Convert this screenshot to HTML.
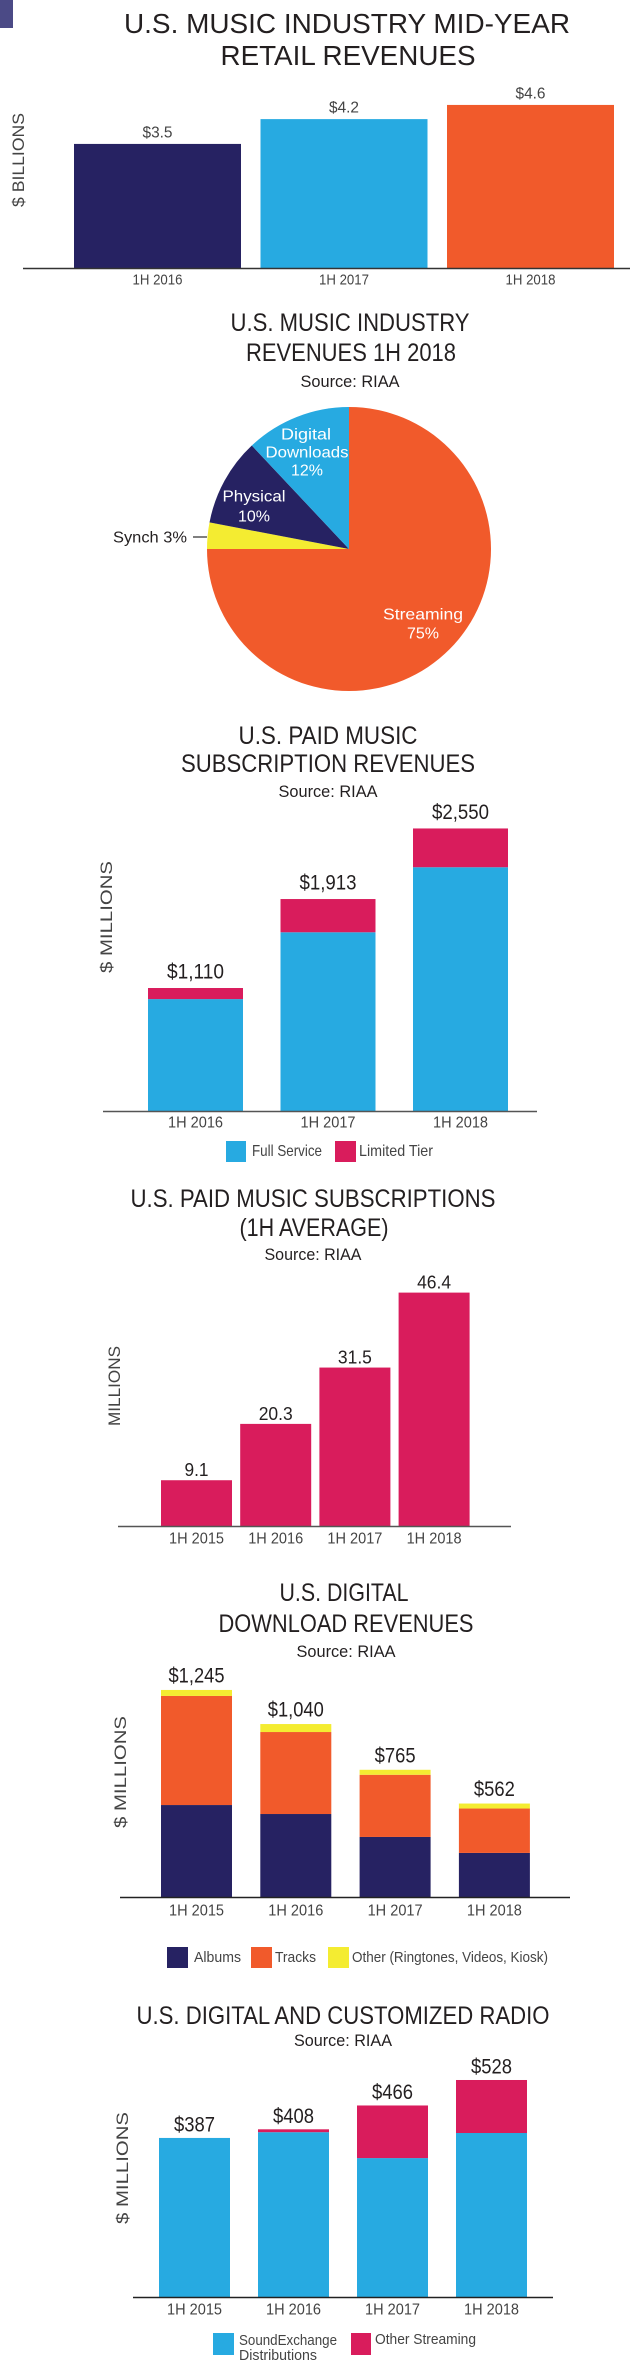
<!DOCTYPE html>
<html><head><meta charset="utf-8">
<style>
html,body{margin:0;padding:0;background:#fff;}
svg{display:block;font-family:"Liberation Sans Narrow","Liberation Sans",sans-serif;fill:#231f20;}
</style></head>
<body>
<svg id="root" width="630" height="2370" viewBox="0 0 630 2370" xmlns="http://www.w3.org/2000/svg">
<rect x="0" y="0" width="13" height="28" fill="#4b4a86"/>

<!-- Chart 1 -->
<g>
<text x="347" y="33" text-anchor="middle" font-size="28" textLength="446" lengthAdjust="spacingAndGlyphs">U.S. MUSIC INDUSTRY MID-YEAR</text>
<text x="348" y="65" text-anchor="middle" font-size="28" textLength="255" lengthAdjust="spacingAndGlyphs">RETAIL REVENUES</text>
<text transform="translate(24,160) rotate(-90)" text-anchor="middle" font-size="17" fill="#444" textLength="94" lengthAdjust="spacingAndGlyphs">$ BILLIONS</text>
<g id="c1"></g>
<line x1="23" y1="268.5" x2="630" y2="268.5" stroke="#333" stroke-width="1.5"/>
</g>

<!-- Chart 2 pie -->
<g>
<text x="350" y="331" text-anchor="middle" font-size="25" textLength="239" lengthAdjust="spacingAndGlyphs">U.S. MUSIC INDUSTRY</text>
<text x="351" y="361" text-anchor="middle" font-size="25" textLength="210" lengthAdjust="spacingAndGlyphs">REVENUES 1H 2018</text>
<text x="350" y="387" text-anchor="middle" font-size="17" textLength="99" lengthAdjust="spacingAndGlyphs">Source: RIAA</text>
<g id="c2"></g>
<line x1="193" y1="537" x2="207" y2="537" stroke="#555" stroke-width="1.5"/>
</g>

<!-- Chart 3 -->
<g>
<text x="328" y="744" text-anchor="middle" font-size="25" textLength="179" lengthAdjust="spacingAndGlyphs">U.S. PAID MUSIC</text>
<text x="328" y="772" text-anchor="middle" font-size="25" textLength="294" lengthAdjust="spacingAndGlyphs">SUBSCRIPTION REVENUES</text>
<text x="328" y="797" text-anchor="middle" font-size="17" textLength="99" lengthAdjust="spacingAndGlyphs">Source: RIAA</text>
<text transform="translate(112,917) rotate(-90)" text-anchor="middle" font-size="17" fill="#444" textLength="112" lengthAdjust="spacingAndGlyphs">$ MILLIONS</text>
<g id="c3"></g>
<line x1="103" y1="1111.5" x2="537" y2="1111.5" stroke="#555" stroke-width="1.5"/>
<rect x="226" y="1141" width="20" height="21" fill="#27aae1"/>
<text x="252" y="1156" font-size="16" fill="#444" textLength="70" lengthAdjust="spacingAndGlyphs">Full Service</text>
<rect x="335" y="1141" width="21" height="21" fill="#d91c5c"/>
<text x="359" y="1156" font-size="16" fill="#444" textLength="74" lengthAdjust="spacingAndGlyphs">Limited Tier</text>
</g>

<!-- Chart 4 -->
<g>
<text x="313" y="1207" text-anchor="middle" font-size="25" textLength="365" lengthAdjust="spacingAndGlyphs">U.S. PAID MUSIC SUBSCRIPTIONS</text>
<text x="314" y="1236" text-anchor="middle" font-size="25" textLength="149" lengthAdjust="spacingAndGlyphs">(1H AVERAGE)</text>
<text x="313" y="1260" text-anchor="middle" font-size="17" textLength="97" lengthAdjust="spacingAndGlyphs">Source: RIAA</text>
<text transform="translate(120,1386) rotate(-90)" text-anchor="middle" font-size="17" fill="#444" textLength="80" lengthAdjust="spacingAndGlyphs">MILLIONS</text>
<g id="c4"></g>
<line x1="118" y1="1526.5" x2="511" y2="1526.5" stroke="#555" stroke-width="1.5"/>
</g>

<!-- Chart 5 -->
<g>
<text x="344" y="1601" text-anchor="middle" font-size="25" textLength="129" lengthAdjust="spacingAndGlyphs">U.S. DIGITAL</text>
<text x="346" y="1632" text-anchor="middle" font-size="25" textLength="255" lengthAdjust="spacingAndGlyphs">DOWNLOAD REVENUES</text>
<text x="346" y="1657" text-anchor="middle" font-size="17" textLength="99" lengthAdjust="spacingAndGlyphs">Source: RIAA</text>
<text transform="translate(126,1772) rotate(-90)" text-anchor="middle" font-size="17" fill="#444" textLength="112" lengthAdjust="spacingAndGlyphs">$ MILLIONS</text>
<g id="c5"></g>
<line x1="120" y1="1897.5" x2="570" y2="1897.5" stroke="#222" stroke-width="1.5"/>
<rect x="167" y="1947" width="21" height="21" fill="#262262"/>
<text x="194" y="1962" font-size="15" fill="#444" textLength="47" lengthAdjust="spacingAndGlyphs">Albums</text>
<rect x="251" y="1947" width="21" height="21" fill="#f15a2b"/>
<text x="275" y="1962" font-size="15" fill="#444" textLength="41" lengthAdjust="spacingAndGlyphs">Tracks</text>
<rect x="328" y="1947" width="21" height="21" fill="#f4ec31"/>
<text x="352" y="1962" font-size="15" fill="#444" textLength="196" lengthAdjust="spacingAndGlyphs">Other (Ringtones, Videos, Kiosk)</text>
</g>

<!-- Chart 6 -->
<g>
<text x="343" y="2024" text-anchor="middle" font-size="25" textLength="413" lengthAdjust="spacingAndGlyphs">U.S. DIGITAL AND CUSTOMIZED RADIO</text>
<text x="343" y="2046" text-anchor="middle" font-size="17" textLength="98" lengthAdjust="spacingAndGlyphs">Source: RIAA</text>
<text transform="translate(128,2168) rotate(-90)" text-anchor="middle" font-size="17" fill="#444" textLength="112" lengthAdjust="spacingAndGlyphs">$ MILLIONS</text>
<g id="c6"></g>
<line x1="133" y1="2297.5" x2="553" y2="2297.5" stroke="#222" stroke-width="1.5"/>
<rect x="213" y="2333" width="21" height="22" fill="#27aae1"/>
<text x="239" y="2345" font-size="15" fill="#444" textLength="98" lengthAdjust="spacingAndGlyphs">SoundExchange</text>
<text x="239" y="2360" font-size="15" fill="#444" textLength="78" lengthAdjust="spacingAndGlyphs">Distributions</text>
<rect x="351" y="2333" width="20" height="22" fill="#d91c5c"/>
<text x="375" y="2344" font-size="15" fill="#444" textLength="101" lengthAdjust="spacingAndGlyphs">Other Streaming</text>
</g>
</svg>

<script>
var NS = "http://www.w3.org/2000/svg";
var NAVY = "#262262", CYAN = "#27aae1", ORANGE = "#f15a2b", PINK = "#d91c5c", YELLOW = "#f4ec31";

// Chart 1 data
var c1Categories = ["1H 2016", "1H 2017", "1H 2018"];
var c1Values = [3.5, 4.2, 4.6];
var c1Labels = ["$3.5", "$4.2", "$4.6"];

// Chart 2 data
var c2Slices = ["Streaming", "Synch", "Physical", "Digital Downloads"];
var c2Percents = [75, 3, 10, 12];

// Chart 3 data
var c3Categories = ["1H 2016", "1H 2017", "1H 2018"];
var c3FullService = [1010, 1613, 2200];
var c3LimitedTier = [100, 300, 350];
var c3Labels = ["$1,110", "$1,913", "$2,550"];

// Chart 4 data
var c4Categories = ["1H 2015", "1H 2016", "1H 2017", "1H 2018"];
var c4Values = [9.1, 20.3, 31.5, 46.4];
var c4Labels = ["9.1", "20.3", "31.5", "46.4"];

// Chart 5 data
var c5Categories = ["1H 2015", "1H 2016", "1H 2017", "1H 2018"];
var c5Albums = [553, 499, 361, 265];
var c5Tracks = [656, 493, 374, 267];
var c5Other = [36, 48, 30, 30];
var c5Labels = ["$1,245", "$1,040", "$765", "$562"];

// Chart 6 data
var c6Categories = ["1H 2015", "1H 2016", "1H 2017", "1H 2018"];
var c6SoundExchange = [387, 401, 338, 399];
var c6OtherStreaming = [0, 7, 128, 129];
var c6Labels = ["$387", "$408", "$466", "$528"];

function el(tag, parent, attrs) {
  var e = document.createElementNS(NS, tag);
  for (var k in attrs) e.setAttribute(k, attrs[k]);
  parent.appendChild(e);
  return e;
}
function txt(parent, x, y, s, size, w, fill) {
  var t = el("text", parent, {x: x, y: y, "text-anchor": "middle", "dominant-baseline": "central", "font-size": size, fill: fill || "#231f20"});
  if (w) { t.setAttribute("textLength", w); t.setAttribute("lengthAdjust", "spacingAndGlyphs"); }
  t.textContent = s;
  return t;
}

// ---- Chart 1
(function () {
  var g = document.getElementById("c1");
  var base = 268, k = 35.45, x0 = 74, bw = 167, step = 186.5;
  var colors = [NAVY, CYAN, ORANGE];
  function y(v) { return base - v * k; }
  for (var i = 0; i < c1Values.length; i++) {
    var x = x0 + i * step;
    var r = el("rect", g, {x: x, y: y(c1Values[i]), width: bw, height: base - y(c1Values[i]), fill: colors[i]});
    
    
    var v = txt(g, x + bw / 2, y(c1Values[i]) - 11, c1Labels[i], 16, 30, "#444");
    
    
    var c = txt(g, x + bw / 2, 280, c1Categories[i], 15, 50, "#444");
    
    
  }
})();

// ---- Chart 2 pie
(function () {
  var g = document.getElementById("c2");
  var cx = 349, cy = 549, r = 142;
  var colors = [ORANGE, YELLOW, NAVY, CYAN];
  var total = 0;
  for (var i = 0; i < c2Percents.length; i++) total += c2Percents[i];
  var a = -Math.PI / 2;
  for (var i = 0; i < c2Percents.length; i++) {
    var a2 = a + c2Percents[i] / total * 2 * Math.PI;
    var large = (a2 - a) > Math.PI ? 1 : 0;
    var d = "M" + cx + "," + cy + " L" + (cx + r * Math.cos(a)) + "," + (cy + r * Math.sin(a)) +
      " A" + r + "," + r + " 0 " + large + " 1 " + (cx + r * Math.cos(a2)) + "," + (cy + r * Math.sin(a2)) + " Z";
    var p = el("path", g, {d: d, fill: colors[i]});
    
    
    a = a2;
  }
  var t;
  t = txt(g, 306, 435, "Digital", 16, 50, "#fff");
   
  t = txt(g, 307, 453, "Downloads", 16, 83, "#fff");
   
  t = txt(g, 307, 471, c2Percents[3] + "%", 16, 32, "#fff");
   
  t = txt(g, 254, 497, "Physical", 16, 63, "#fff");
   
  t = txt(g, 254, 517, c2Percents[2] + "%", 16, 32, "#fff");
   
  t = txt(g, 150, 538, "Synch " + c2Percents[1] + "%", 16, 74, "#231f20");
   
  t = txt(g, 423, 615, "Streaming", 16, 80, "#fff");
   
  t = txt(g, 423, 634, c2Percents[0] + "%", 16, 32, "#fff");
   
})();

// ---- Chart 3
(function () {
  var g = document.getElementById("c3");
  var base = 1111, k = 0.1108, x0 = 148, bw = 95, step = 132.5;
  function y(v) { return base - v * k; }
  for (var i = 0; i < c3Categories.length; i++) {
    var x = x0 + i * step;
    var f = c3FullService[i], l = c3LimitedTier[i];
    var r1 = el("rect", g, {x: x, y: y(f), width: bw, height: base - y(f), fill: CYAN});
    
    
    var r2 = el("rect", g, {x: x, y: y(f + l), width: bw, height: y(f) - y(f + l), fill: PINK});
    
    
    var v = txt(g, x + bw / 2, y(f + l) - 16, c3Labels[i], 21, 57);
    
    
    var c = txt(g, x + bw / 2, 1123, c3Categories[i], 16, 55, "#444");
    
    
  }
})();

// ---- Chart 4
(function () {
  var g = document.getElementById("c4");
  var base = 1526, k = 5.03, x0 = 161, bw = 71, step = 79.2;
  function y(v) { return base - v * k; }
  for (var i = 0; i < c4Values.length; i++) {
    var x = x0 + i * step;
    var r = el("rect", g, {x: x, y: y(c4Values[i]), width: bw, height: base - y(c4Values[i]), fill: PINK});
    
    
    var v = txt(g, x + bw / 2, y(c4Values[i]) - 10, c4Labels[i], 18, c4Labels[i].length > 3 ? 34 : 24);
    
    
    var c = txt(g, x + bw / 2, 1539, c4Categories[i], 16, 55, "#444");
    
    
  }
})();

// ---- Chart 5
(function () {
  var g = document.getElementById("c5");
  var base = 1897, k = 0.1663, x0 = 161, bw = 71, step = 99.3;
  function y(v) { return base - v * k; }
  for (var i = 0; i < c5Categories.length; i++) {
    var x = x0 + i * step;
    var a = c5Albums[i], t = c5Tracks[i], o = c5Other[i];
    var r1 = el("rect", g, {x: x, y: y(a), width: bw, height: base - y(a), fill: NAVY});
    
    
    var r2 = el("rect", g, {x: x, y: y(a + t), width: bw, height: y(a) - y(a + t), fill: ORANGE});
    
    
    var r3 = el("rect", g, {x: x, y: y(a + t + o), width: bw, height: y(a + t) - y(a + t + o), fill: YELLOW});
    
    
    var v = txt(g, x + bw / 2, y(a + t + o) - 14, c5Labels[i], 21, c5Labels[i].length > 4 ? 56 : 41);
    
    
    var c = txt(g, x + bw / 2, 1911, c5Categories[i], 16, 55, "#444");
    
    
  }
})();

// ---- Chart 6
(function () {
  var g = document.getElementById("c6");
  var base = 2297, k = 0.411, x0 = 159, bw = 71, step = 99;
  function y(v) { return base - v * k; }
  for (var i = 0; i < c6Categories.length; i++) {
    var x = x0 + i * step;
    var s = c6SoundExchange[i], o = c6OtherStreaming[i];
    var r1 = el("rect", g, {x: x, y: y(s), width: bw, height: base - y(s), fill: CYAN});
    
    
    var r2 = el("rect", g, {x: x, y: y(s + o), width: bw, height: y(s) - y(s + o), fill: PINK});
    
    
    var v = txt(g, x + bw / 2, y(s + o) - 13, c6Labels[i], 21, 41);
    
    
    var c = txt(g, x + bw / 2, 2310, c6Categories[i], 16, 55, "#444");
    
    
  }
})();
</script>
</body></html>
